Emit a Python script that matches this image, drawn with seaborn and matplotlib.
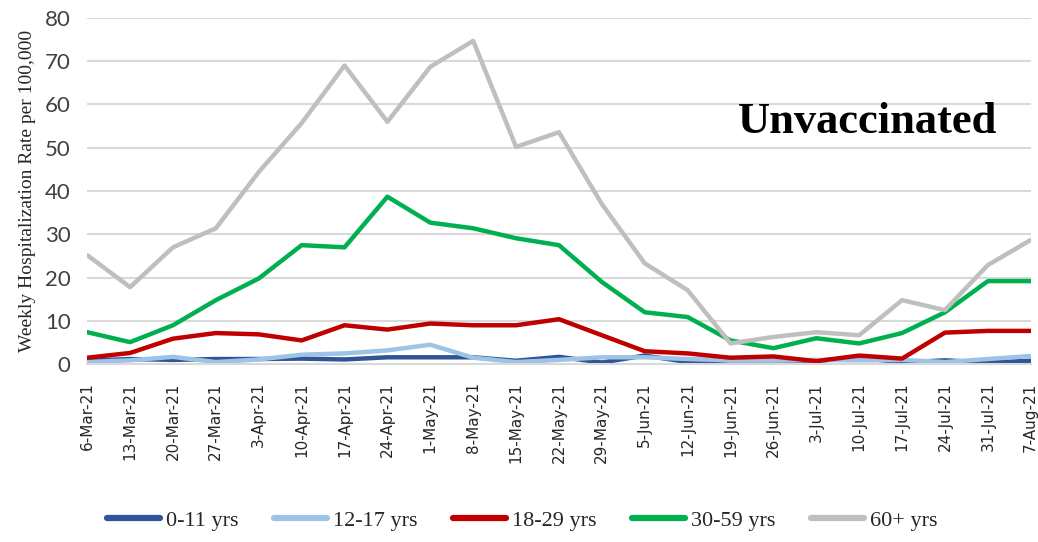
import pandas as pd
import matplotlib
matplotlib.use("Agg")
import matplotlib.pyplot as plt
import seaborn as sns

sns.set_style("white")

# weekly dates (x axis)
dates = ["6-Mar-21", "13-Mar-21", "20-Mar-21", "27-Mar-21", "3-Apr-21", "10-Apr-21",
         "17-Apr-21", "24-Apr-21", "1-May-21", "8-May-21", "15-May-21", "22-May-21",
         "29-May-21", "5-Jun-21", "12-Jun-21", "19-Jun-21", "26-Jun-21", "3-Jul-21",
         "10-Jul-21", "17-Jul-21", "24-Jul-21", "31-Jul-21", "7-Aug-21"]

# weekly hospitalization rate per 100,000 (unvaccinated)
age_0_11 = [0.8, 1.2, 1.0, 1.2, 1.2, 1.3, 1.1, 1.6, 1.6, 1.6, 0.8, 1.7,
            0.4, 2.0, 0.5, 0.9, 0.9, 0.8, 1.5, 0.4, 0.9, 0.4, 0.8]
age_12_17 = [0.5, 0.9, 1.7, 0.5, 1.1, 2.2, 2.5, 3.2, 4.5, 1.5, 0.5, 1.0,
             1.6, 1.6, 1.2, 0.9, 0.9, 1.0, 0.9, 1.0, 0.5, 1.2, 1.9]
age_18_29 = [1.5, 2.6, 5.9, 7.2, 6.9, 5.5, 9.0, 8.0, 9.4, 9.0, 9.0, 10.4,
             6.7, 3.0, 2.5, 1.5, 1.8, 0.7, 2.0, 1.3, 7.3, 7.7, 7.7]
age_30_59 = [7.4, 5.1, 9.0, 14.8, 19.8, 27.5, 27.0, 38.7, 32.7, 31.4, 29.1, 27.5,
             19.0, 12.0, 10.9, 5.5, 3.7, 6.0, 4.8, 7.2, 12.0, 19.2, 19.2]
age_60_plus = [25.2, 17.8, 27.0, 31.4, 44.4, 55.7, 69.0, 56.0, 68.7, 74.7, 50.2, 53.6,
               37.0, 23.3, 17.1, 4.8, 6.3, 7.4, 6.7, 14.8, 12.5, 22.9, 28.7]

groups = ["0-11 yrs", "12-17 yrs", "18-29 yrs", "30-59 yrs", "60+ yrs"]
colors = ["#2f5597", "#9dc3e6", "#c00000", "#00b050", "#bfbfbf"]

rows = []
for g, vals in zip(groups, [age_0_11, age_12_17, age_18_29, age_30_59, age_60_plus]):
    for i, v in enumerate(vals):
        rows.append({"week": i, "rate": v, "group": g})
df = pd.DataFrame(rows)

fig = plt.figure(figsize=(10.38, 5.42), dpi=100)
ax = fig.add_axes([0.084, 0.328, 0.909, 0.639])

sns.lineplot(data=df, x="week", y="rate", hue="group", hue_order=groups,
             palette=colors, linewidth=3.2, ax=ax, legend=True)

ax.set_xlim(0, len(dates) - 1)
ax.set_ylim(0, 80)
ax.set_yticks(range(0, 81, 10))
ax.yaxis.grid(True, color="#d9d9d9", linewidth=1.5)
ax.set_axisbelow(True)
for s in ["top", "right", "left"]:
    ax.spines[s].set_visible(False)
ax.spines["bottom"].set_color("#d9d9d9")
ax.spines["bottom"].set_linewidth(1.5)

ax.set_xticks(range(len(dates)))
ax.set_xticklabels(dates, rotation=90, fontsize=11, family="DejaVu Sans")
ax.tick_params(axis="x", length=7, width=1.2, color="#d9d9d9", pad=6)
ax.tick_params(axis="y", length=0, pad=12)
for t in ax.get_yticklabels():
    t.set_fontfamily("Lato")
    t.set_fontsize(16)
    t.set_color("#404040")

ax.set_xlabel("")
ax.set_ylabel("Weekly Hospitalization Rate per 100,000", family="Liberation Serif",
              fontsize=14, labelpad=6)

ax.text(0.69, 0.70, "Unvaccinated", transform=ax.transAxes, family="Liberation Serif",
        fontsize=32, fontweight="bold", va="center", ha="left", color="black")

handles, labels = ax.get_legend_handles_labels()
ax.legend(handles, labels, loc="center", bbox_to_anchor=(0.503, 0.04),
          bbox_transform=fig.transFigure, ncol=5, frameon=False,
          prop={"family": "Liberation Serif", "size": 16},
          handlelength=2.4, handletextpad=0.25, columnspacing=1.6)
for line in ax.get_legend().get_lines():
    line.set_linewidth(4.5)

plt.savefig("out.png", dpi=100)
plt.close()
